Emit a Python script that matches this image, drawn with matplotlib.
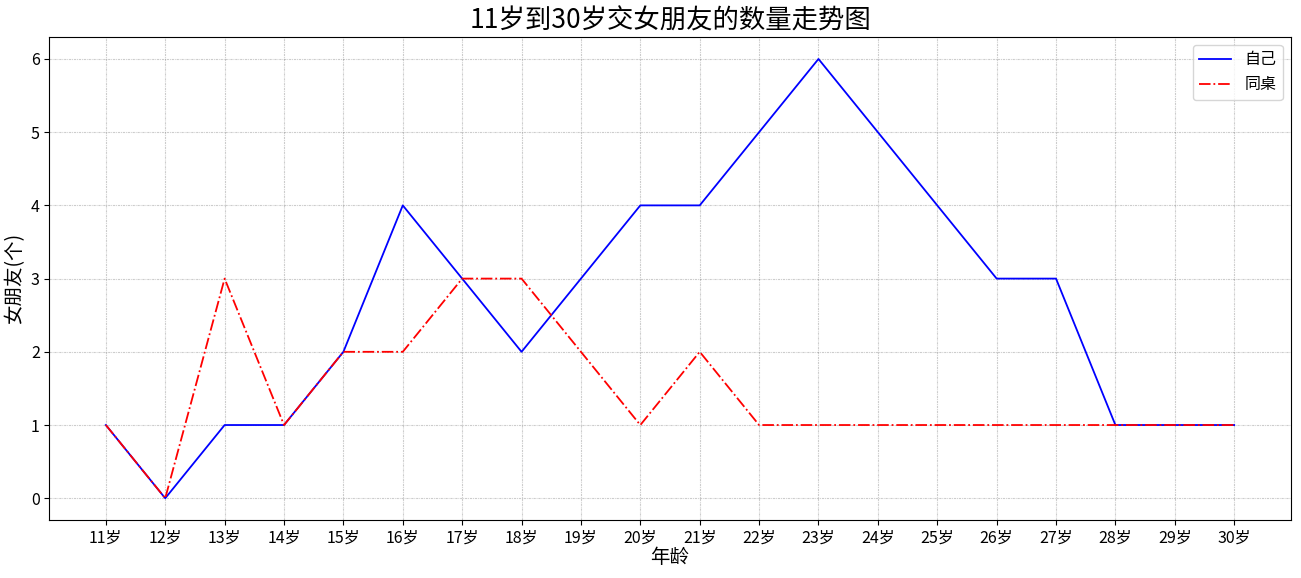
import matplotlib
matplotlib.use('Agg')
import matplotlib.pyplot as plt

plt.rcParams['font.family'] = ['Noto Sans CJK SC', 'DejaVu Sans']
plt.rcParams['axes.unicode_minus'] = False

ages = list(range(11, 31))
age_labels = ["{}岁".format(i) for i in ages]
mine = [1, 0, 1, 1, 2, 4, 3, 2, 3, 4, 4, 5, 6, 5, 4, 3, 3, 1, 1, 1]
deskmate = [1, 0, 3, 1, 2, 2, 3, 3, 2, 1, 2, 1, 1, 1, 1, 1, 1, 1, 1, 1]

fig = plt.figure(figsize=(13.01, 5.78), dpi=100)
ax = fig.add_axes([0.038, 0.10, 0.954, 0.836])

ax.plot(ages, mine, color='blue', linewidth=1.3, label='自己')
ax.plot(ages, deskmate, color='red', linestyle='-.', linewidth=1.3, label='同桌')

ax.set_xticks(ages)
ax.set_xticklabels(age_labels, fontsize=11.5)
ax.tick_params(axis='y', labelsize=11.5)

ax.set_xlabel('年龄', fontsize=14, labelpad=0)
ax.set_ylabel('女朋友(个)', fontsize=14)
ax.set_title('11岁到30岁交女朋友的数量走势图', fontsize=19)

# fine dash-dot grid
ax.grid(alpha=0.4, linestyle=(0, (2, 0.8, 0.8, 0.8)), color='grey', linewidth=0.8)
ax.legend(loc='upper right', prop={'size': 11.5})

fig.savefig('out.png', dpi=100)
